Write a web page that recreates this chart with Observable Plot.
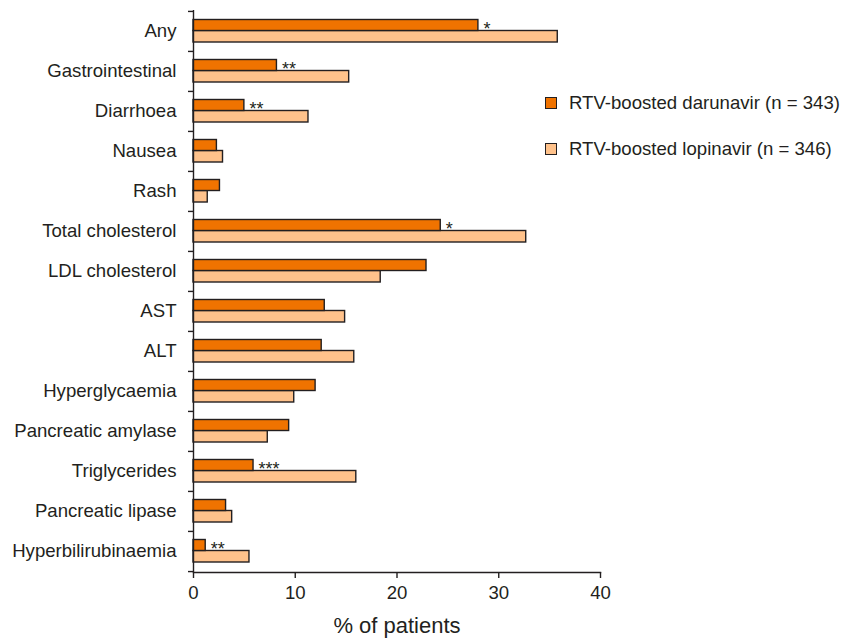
<!DOCTYPE html>
<html>
<head>
<meta charset="utf-8">
<script src="https://cdn.jsdelivr.net/npm/d3@7"></script>
<script src="https://cdn.jsdelivr.net/npm/@observablehq/plot@0.6"></script>
<style>
  html, body { margin: 0; padding: 0; background: #fff; }
  #wrap { position: relative; width: 856px; height: 640px; font-family: "Liberation Sans", Arial, Helvetica, sans-serif; color: #231f20; }
  .leg { position: absolute; left: 545px; display: flex; align-items: center; font-size: 18.6px; white-space: nowrap; }
  .sw { width: 10px; height: 10px; border: 1.4px solid #231f20; margin-right: 12px; }
</style>
</head>
<body>
<div id="wrap"></div>
<script>
const categories = ["Any", "Gastrointestinal", "Diarrhoea", "Nausea", "Rash", "Total cholesterol", "LDL cholesterol", "AST", "ALT", "Hyperglycaemia", "Pancreatic amylase", "Triglycerides", "Pancreatic lipase", "Hyperbilirubinaemia"];
const darunavir = [28.0, 8.2, 5.0, 2.3, 2.6, 24.3, 22.9, 12.9, 12.6, 12.0, 9.4, 5.9, 3.2, 1.2];
const lopinavir = [35.8, 15.3, 11.3, 2.9, 1.4, 32.7, 18.4, 14.9, 15.8, 9.9, 7.3, 16.0, 3.8, 5.5];
const significance = ["*", "**", "**", "", "", "*", "", "", "", "", "", "***", "", "**"];
const seriesNames = ["RTV-boosted darunavir (n = 343)", "RTV-boosted lopinavir (n = 346)"];
const seriesColors = ["#F07300", "#FFC28B"];
const xTicks = [0, 10, 20, 30, 40];
const xLabel = "% of patients";

const rows = categories.map((c, i) => ({category: c, dar: darunavir[i], lop: lopinavir[i], sig: significance[i]}));
const ink = "#231f20";
const halfStep = (640 - 10 - 68) / categories.length / 2;

const chart = Plot.plot({
  width: 856,
  height: 640,
  marginLeft: 193,
  marginRight: 256,
  marginTop: 10,
  marginBottom: 68,
  style: {fontFamily: "'Liberation Sans', Arial, Helvetica, sans-serif", color: ink, background: "#fff"},
  x: {domain: [0, 40], axis: null},
  y: {domain: categories, padding: 0, axis: null},
  marks: [
    Plot.barX(rows, {x: "lop", y: "category", fill: seriesColors[1], stroke: ink, strokeWidth: 1.4, insetTop: 19.5, insetBottom: 9}),
    Plot.barX(rows, {x: "dar", y: "category", fill: seriesColors[0], stroke: ink, strokeWidth: 1.4, insetTop: 8.5, insetBottom: 20.5}),
    Plot.text(rows, {x: "dar", y: "category", text: "sig", dx: 5, dy: -2, textAnchor: "start", fontSize: 18, letterSpacing: 1, fill: ink}),
    Plot.ruleX([0], {stroke: ink, strokeWidth: 1.4}),
    Plot.frame({anchor: "bottom", stroke: ink, strokeWidth: 1.4}),
    Plot.axisY({tickSize: 0, tickPadding: 17, fontSize: 18.6, label: null, fill: ink}),
    Plot.axisY({tickSize: 5, text: null, dy: -halfStep, label: null, stroke: ink, strokeWidth: 1.4}),
    Plot.axisY({ticks: [categories[categories.length - 1]], tickSize: 5, text: null, dy: halfStep, label: null, stroke: ink, strokeWidth: 1.4}),
    Plot.axisX({ticks: xTicks, tickSize: 6, tickPadding: 7, fontSize: 18.6, label: null, stroke: ink, strokeWidth: 1.4, fill: ink}),
    Plot.text([xLabel], {text: d => d, frameAnchor: "bottom", dy: 60, fontSize: 22, fill: ink})
  ]
});

const wrap = document.getElementById("wrap");
wrap.appendChild(chart);
const legendTops = [92, 138];
seriesNames.forEach((name, i) => {
  const item = document.createElement("div");
  item.className = "leg";
  item.style.top = legendTops[i] + "px";
  const sw = document.createElement("span");
  sw.className = "sw";
  sw.style.background = seriesColors[i];
  const label = document.createElement("span");
  label.textContent = name;
  item.appendChild(sw);
  item.appendChild(label);
  wrap.appendChild(item);
});
</script>
</body>
</html>
